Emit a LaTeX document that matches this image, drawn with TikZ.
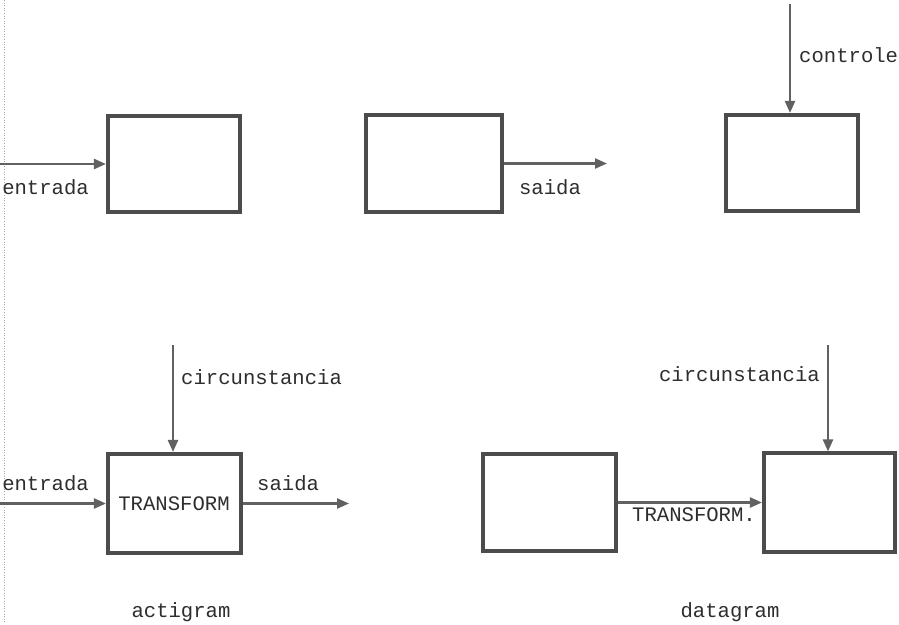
\documentclass[tikz,border=0pt]{standalone}
\usepackage{fontspec}
\setmonofont{Liberation Mono}
\usetikzlibrary{arrows.meta}
\begin{document}
\begin{tikzpicture}[x=1pt,y=-1pt,
  font=\ttfamily\fontsize{20.6}{24}\selectfont,
  blockbox/.style={draw=black!70, line width=3.6pt, inner sep=0pt, fill=white},
  flow/.style={draw=black!62, line width=2.3pt,
    -{Triangle[length=12pt,width=10pt]}},
  lbl/.style={text=black!82, inner sep=0pt}]
  \useasboundingbox (0,0) rectangle (899,624);

  % scanned page edge
  \draw[black!35, line width=0.6pt, dotted] (4,0) -- (4,624);

  % ---- top row: the three elementary arrows ----
  \node[blockbox, minimum width=132.5pt, minimum height=96.5pt] (b1) at (174,164) {};
  \node[blockbox, minimum width=136.5pt, minimum height=97.5pt] (b2) at (434,163.5) {};
  \node[blockbox, minimum width=132.5pt, minimum height=96.5pt] (b3) at (792,163) {};

  \coordinate (in1) at (0,164);
  \coordinate (out2) at (607,163.5);
  \coordinate (ctl3) at (790,4);

  \draw[flow] (in1) -- (b1.west);
  \draw[flow] (b2.east) -- (out2);
  \draw[flow] (ctl3) -- (b3.north -| ctl3);

  \node[lbl, anchor=east] (tin1) at (89,187) {entrada};
  \node[lbl] (tout2) at (550,187) {saida};
  \node[lbl, anchor=west] (tctl3) at (799,55) {controle};

  % ---- actigram ----
  \node[blockbox, minimum width=133.5pt, minimum height=99.5pt] (b4) at (174.5,503.5) {};
  \node[lbl] (tr4) at (174,504) {TRANSFORM};

  \coordinate (in4) at (0,503.5);
  \coordinate (out4) at (349,503.5);
  \coordinate (ctl4) at (173,345);

  \draw[flow] (in4) -- (b4.west);
  \draw[flow] (b4.east) -- (out4);
  \draw[flow] (ctl4) -- (b4.north -| ctl4);

  \node[lbl, anchor=east] (tin4) at (89,483) {entrada};
  \node[lbl, anchor=west] (tout4) at (257,483) {saida};
  \node[lbl, anchor=west] (tctl4) at (181,377) {circunstancia};
  \node[lbl] (act) at (181,612) {actigram};

  % ---- datagram ----
  \node[blockbox, minimum width=133.5pt, minimum height=97.5pt] (b5) at (549.5,502.5) {};
  \node[blockbox, minimum width=131.5pt, minimum height=98.5pt] (b6) at (829.5,502.5) {};

  \coordinate (ctl6) at (828,345);

  \draw[flow] (b5.east) -- (b6.west);
  \draw[flow] (ctl6) -- (b6.north -| ctl6);

  \node[lbl, anchor=west] (tr5) at (632,515) {TRANSFORM.};
  \node[lbl, anchor=east] (tctl6) at (820,374) {circunstancia};
  \node[lbl] (dat) at (730,612) {datagram};
\end{tikzpicture}
\end{document}
